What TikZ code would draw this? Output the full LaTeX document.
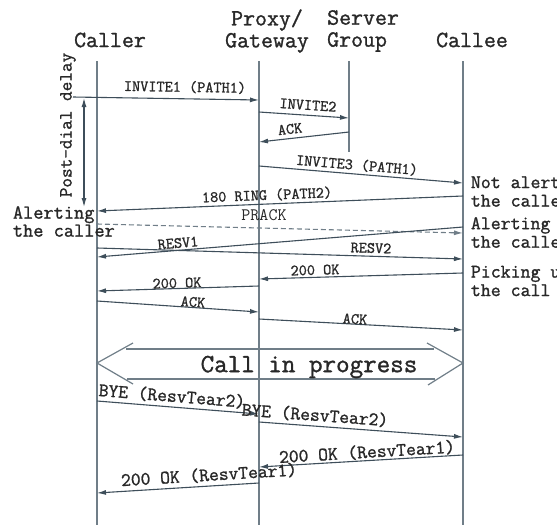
\documentclass[tikz,border=0pt]{standalone}
\usepackage{fontspec}
\newfontfamily\cour{Latin Modern Mono}[FakeBold=1.2]
\newfontfamily\thin{Latin Modern Mono}
\usetikzlibrary{arrows.meta}
\definecolor{ln}{RGB}{62,78,90}
\definecolor{lf}{RGB}{112,126,136}
\definecolor{tx}{RGB}{40,40,40}
\tikzset{
  lifeline/.style={draw=lf, line width=1.7pt},
  msg/.style={draw=ln, line width=1.1pt, -{Latex[length=9pt,width=5pt]}},
  dmsg/.style={msg, draw=lf, dash pattern=on 5pt off 3pt},
  shapeline/.style={draw=lf, line width=1.2pt},
  hdr/.style={font=\cour\fontsize{23.2}{22}\selectfont, text=tx, inner sep=0pt},
  lbl/.style={font=\cour\fontsize{15.8}{16}\selectfont, text=tx, inner sep=0pt},
  lblbig/.style={font=\cour\fontsize{19}{20}\selectfont, text=tx, inner sep=0pt},
  side/.style={font=\cour\fontsize{19.8}{18}\selectfont, text=tx, inner sep=0pt, align=left, anchor=west},
  sider/.style={side, font=\cour\fontsize{19.3}{18.5}\selectfont},
}
\begin{document}
\begin{tikzpicture}[x=1pt,y=-1pt]
\useasboundingbox (0,0) rectangle (557,525);
\clip (0,0) rectangle (557,525);
\fill[white] (0,0) rectangle (557,525);

% headers
\node[hdr] (hcaller) at (110,40) {Caller};
\node[hdr, align=center] (hproxy) at (267,31) {Proxy/\\Gateway};
\node[hdr, align=left, anchor=west] (hserver) at (327,31) {Server\\Group};
\node[hdr] (hcallee) at (472,40) {Callee};

% lifelines
\coordinate (cl) at (97,61);  \coordinate (clb) at (97,525);
\coordinate (px) at (259,61); \coordinate (pxb) at (259,525);
\coordinate (sv) at (349,61); \coordinate (svb) at (349,152);
\coordinate (ce) at (463,61); \coordinate (ceb) at (463,525);
\draw[lifeline] (cl) -- (clb);
\draw[lifeline] (px) -- (pxb);
\draw[lifeline] (sv) -- (svb);
\draw[lifeline] (ce) -- (ceb);

% post-dial delay
\coordinate (pd1) at (84,98);
\coordinate (pd2) at (84,207);
\draw[draw=ln, line width=1.1pt, {Latex[length=9pt,width=5pt]}-{Latex[length=9pt,width=5pt]}] (pd1) -- (pd2);
\node[font=\cour\fontsize{18.7}{19}\selectfont, text=tx, inner sep=0pt, rotate=90] (pdtext) at (68,125) {Post-dial delay};

% messages
\coordinate (i1s) at (73,97);
\draw[msg] (i1s) -- (px |- 0,100);
\node[lbl, rotate=-0.9] (l1) at (185,87) {INVITE1 (PATH1)};

\draw[msg] (px |- 0,112) -- (sv |- 0,118);
\node[lbl, rotate=-3.8] (l2) at (308,105) {INVITE2};

\draw[msg] (sv |- 0,132) -- (px |- 0,142);
\node[lbl, rotate=6.3] (l3) at (290,129) {ACK};

\draw[msg] (px |- 0,166) -- (ce |- 0,183);
\node[lbl, rotate=-4.8] (l4) at (357,165) {INVITE3 (PATH1)};

\draw[msg] (ce |- 0,196) -- (cl |- 0,211);
\node[lbl, rotate=2.3] (l5) at (267,195) {180 RING (PATH2)};

\draw[dmsg] (cl |- 0,224) -- (ce |- 0,233);
\node[font=\thin\fontsize{17.5}{18}\selectfont, text=tx, inner sep=0pt] (l6) at (264,215) {PRACK};

\draw[msg] (ce |- 0,227) -- (cl |- 0,257);
\node[lbl, rotate=4.7] (l7) at (178,243) {RESV1};

\draw[msg] (cl |- 0,248) -- (ce |- 0,259);
\node[lbl, rotate=-1.7] (l8) at (371,248) {RESV2};

\draw[msg] (ce |- 0,273) -- (px |- 0,279);
\node[lbl, rotate=1.7] (l9) at (315,270) {200 OK};

\draw[msg] (px |- 0,286) -- (cl |- 0,291);
\node[lbl, rotate=1.8] (l10) at (177,283) {200 OK};

\draw[msg] (cl |- 0,301) -- (px |- 0,312);
\node[lbl, rotate=-3.9] (l11) at (193,302) {ACK};

\draw[msg] (px |- 0,319) -- (ce |- 0,330);
\node[lbl, rotate=-3.1] (l12) at (355,319) {ACK};

% call in progress
\draw[shapeline] (133,343) -- (cl |- 0,363) -- (133,384);
\draw[shapeline] (427,343) -- (ce |- 0,363) -- (428,385);
\draw[shapeline] (126,349) -- (434,349);
\draw[shapeline] (127,379) -- (435,379);
\node[font=\cour\fontsize{26.3}{26}\selectfont, text=tx, inner sep=0pt] (cip) at (309,367) {Call in progress};

% teardown
\draw[msg] (cl |- 0,401) -- (px |- 0,414);
\node[lblbig, rotate=-4.6] (l14) at (172,396) {BYE (ResvTear2)};

\draw[msg] (px |- 0,422) -- (ce |- 0,437);
\node[lblbig, rotate=-4.2] (l15) at (315,415) {BYE (ResvTear2)};

\draw[msg] (ce |- 0,455) -- (px |- 0,467);
\node[lblbig, rotate=3.4] (l16) at (367,452) {200 OK (ResvTear1)};

\draw[msg] (px |- 0,483) -- (cl |- 0,493);
\node[lblbig, rotate=3.5] (l17) at (209,475) {200 OK (ResvTear1)};

% side notes
\node[side] (s1) at (12.7,221.5) {Alerting\\the caller};
\node[sider] (s2) at (470.7,191.5) {Not alerting\\the callee};
\node[sider] (s3) at (470.7,232.5) {Alerting\\the callee};
\node[sider] (s4) at (470.7,281) {Picking up\\the call};
\end{tikzpicture}
\end{document}
